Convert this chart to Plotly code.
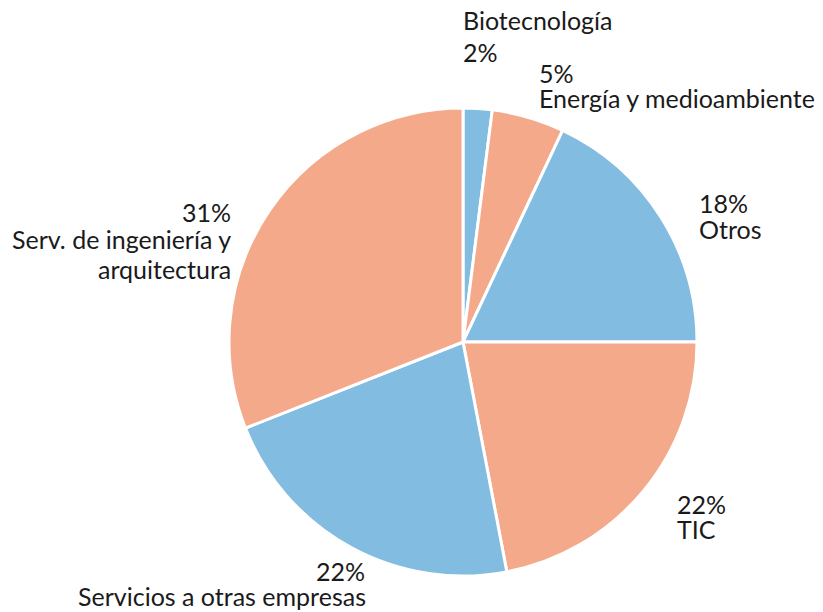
import plotly.graph_objects as go

W, H = 823, 612
OFF = 8  # page body margin offset

categories = ["Biotecnología", "Energía y medioambiente", "Otros", "TIC",
              "Servicios a otras empresas", "Serv. de ingeniería y arquitectura"]
values = [2, 5, 18, 22, 22, 31]
BLUE = "#82BCE1"
ORANGE = "#F3A98A"
colors = [BLUE, ORANGE, BLUE, ORANGE, BLUE, ORANGE]

cx, cy, r = 463 - OFF, 342 - OFF, 234

fig = go.Figure(go.Pie(
    labels=categories, values=values, sort=False, direction="clockwise",
    rotation=0, textinfo="none", hoverinfo="label+percent",
    marker=dict(colors=colors, line=dict(color="white", width=3)),
    domain=dict(x=[(cx - r) / W, (cx + r) / W], y=[1 - (cy + r) / H, 1 - (cy - r) / H]),
    showlegend=False,
))

FONT = dict(family="Lato", size=25, color="#1a1a1a")

def ann(text, x, y, xanchor="left"):
    fig.add_annotation(text=text, x=(x - OFF) / W, y=1 - (y - OFF) / H,
                       xref="paper", yref="paper",
                       xanchor=xanchor, yanchor="middle", align=xanchor,
                       showarrow=False, font=FONT)

pct = [f"{v}%" for v in values]
ann(categories[0], 461, 20)
ann(pct[0], 461, 52)
ann(pct[1], 537, 73)
ann(categories[1], 537, 98)
ann(pct[2], 697, 203)
ann(categories[2], 697, 229)
ann(pct[3], 675, 504)
ann(categories[3], 675, 529)
ann(pct[4], 367, 571, xanchor="right")
ann(categories[4], 368, 596, xanchor="right")
ann(pct[5], 233, 212, xanchor="right")
ann("Serv. de ingeniería y", 233, 239, xanchor="right")
ann("arquitectura", 233, 269, xanchor="right")

fig.update_layout(width=W, height=H, margin=dict(l=0, r=0, t=0, b=0),
                  paper_bgcolor="white", plot_bgcolor="white")
fig.write_html("out.html")
